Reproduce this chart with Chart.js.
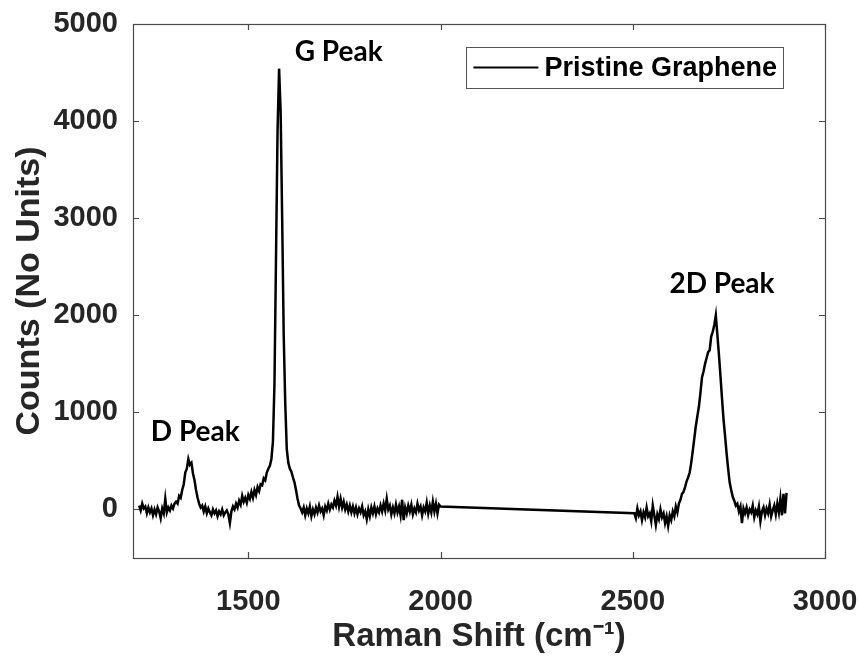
<!DOCTYPE html>
<html><head><meta charset="utf-8">
<script src="https://cdn.jsdelivr.net/npm/chart.js@4/dist/chart.umd.min.js"></script>
<style>html,body{margin:0;padding:0;background:#fff}#wrap{width:859px;height:661px}</style>
</head><body><div id="wrap"><canvas id="c" width="859" height="661"></canvas></div>
<script>
// ---- data ----
const seriesName = 'Pristine Graphene';
const xTickValues = [1500, 2000, 2500, 3000];
const yTickValues = [0, 1000, 2000, 3000, 4000, 5000];

const shiftLow = [
1216,1220,1224,1228,1232,1236,1240,1244,1248,1252,
1256,1260,1264,1268,1272,1276,1280,1284,1288,1292,
1296,1300,1304,1308,1312,1316,1320,1324,1328,1332,
1336,1340,1344,1348,1352,1356,1360,1364,1368,1372,
1376,1380,1384,1388,1392,1396,1400,1404,1408,1412,
1416,1420,1424,1428,1432,1436,1440,1444,1448,1452,
1456,1460,1464,1468,1472,1476,1480,1484,1488,1492,
1496,1500,1504,1508,1512,1516,1520,1524,1528,1532,
1536,1540,1544,1548,1552,1556,1560,1564,1568,1572,
1576,1580,1584,1588,1592,1596,1600,1604,1608,1612,
1616,1620,1624,1628,1632,1636,1640,1644,1648,1652,
1656,1660,1664,1668,1672,1676,1680,1684,1688,1692,
1696,1700,1704,1708,1712,1716,1720,1724,1728,1732,
1736,1740,1744,1748,1752,1756,1760,1764,1768,1772,
1776,1780,1784,1788,1792,1796,1800,1804,1808,1812,
1816,1820,1824,1828,1832,1836,1840,1844,1848,1852,
1856,1860,1864,1868,1872,1876,1880,1884,1888,1892,
1896,1900,1904,1908,1912,1916,1920,1924,1928,1932,
1936,1940,1944,1948,1952,1956,1960,1964,1968,1972,
1976,1980,1984,1988,1992,1996,2000];
const countsLow = [
40,-10,60,10,30,-40,20,-30,10,-60,
0,-50,20,-20,-90,10,-40,110,-30,20,
-10,40,10,60,80,60,140,120,200,260,
380,420,520,460,480,370,300,200,120,60,
20,40,-20,30,-40,10,-30,-60,0,-40,
-10,-70,-20,-50,0,-60,-30,-10,-50,-140,
-20,30,0,60,20,90,50,140,80,120,
70,150,110,180,120,200,150,230,190,260,
250,320,300,380,420,450,520,700,1300,2600,
3900,4540,4100,3000,1800,1100,620,480,420,390,
330,280,200,110,40,10,-30,20,-60,10,
-40,30,-70,0,-50,20,-30,40,-20,10,
-60,30,-10,60,0,50,20,90,40,130,
30,110,20,80,0,50,-20,40,-30,30,
-40,20,-50,10,-30,30,-60,-20,-100,0,
-70,20,-40,30,-50,10,-30,40,-20,60,
-10,110,0,40,-50,20,-40,50,-30,30,
-60,100,-110,20,-40,40,-20,50,-50,10,
-30,60,-10,30,-60,20,-20,70,-40,40,
-30,80,-20,60,-40,50,30];

const shiftHigh = [
2504,2508,2512,2516,2520,2524,2528,2532,2536,2540,
2544,2548,2552,2556,2560,2564,2568,2572,2576,2580,
2584,2588,2592,2596,2600,2604,2608,2612,2616,2620,
2624,2628,2632,2636,2640,2644,2648,2652,2656,2660,
2664,2668,2672,2676,2680,2684,2688,2692,2696,2700,
2704,2708,2712,2716,2720,2724,2728,2732,2736,2740,
2744,2748,2752,2756,2760,2764,2768,2772,2776,2780,
2784,2788,2792,2796,2800,2804,2808,2812,2816,2820,
2824,2828,2832,2836,2840,2844,2848,2852,2856,2860,
2864,2868,2872,2876,2880,2884,2888,2892,2896,2900];
const countsHigh = [
-40,-90,10,-60,-20,-110,-30,-80,20,-70,
-40,-120,40,-60,-160,-50,-100,0,-80,-40,
-140,-70,-170,-60,-110,-20,-70,30,-30,60,
100,160,180,230,290,330,380,480,600,730,
860,960,1060,1200,1360,1420,1500,1560,1620,1640,
1780,1830,1900,2000,1800,1600,1380,1150,930,760,
580,420,280,200,130,90,40,60,-20,30,
-140,10,-40,20,-60,0,-30,40,-80,-10,
-50,30,-120,-20,20,-60,10,-40,50,-70,
-10,40,-50,60,-30,110,-60,160,-40,170];

// peak annotations (text and anchor in data units)
const peakNames = ['D Peak', 'G Peak', '2D Peak'];
const peakAnchorShift = [1362, 1735, 2732];
const peakAnchorCounts = [710, 4620, 2230];

// ---- chart ----
Chart.defaults.font.family = "'Liberation Sans', Arial, Helvetica, sans-serif";
const axisColor = '#262626';

const points = shiftLow.map((x, i) => ({x, y: countsLow[i]}))
  .concat(shiftHigh.map((x, i) => ({x, y: countsHigh[i]})));

const framePlugin = {
  id: 'frame',
  afterDraw(chart) {
    const {ctx, chartArea: a, scales: {x, y}} = chart;
    ctx.save();
    // box
    ctx.strokeStyle = '#4a4a4a';
    ctx.lineWidth = 1.2;
    ctx.strokeRect(a.left + 0.5, a.top + 0.5, a.right - a.left, a.bottom - a.top);
    // inward ticks on all four sides
    const tl = 6;
    ctx.beginPath();
    xTickValues.forEach(v => {
      const px = Math.round(x.getPixelForValue(v)) + 0.5;
      ctx.moveTo(px, a.bottom); ctx.lineTo(px, a.bottom - tl);
      ctx.moveTo(px, a.top); ctx.lineTo(px, a.top + tl);
    });
    yTickValues.forEach(v => {
      const py = Math.round(y.getPixelForValue(v)) + 0.5;
      ctx.moveTo(a.left, py); ctx.lineTo(a.left + tl, py);
      ctx.moveTo(a.right, py); ctx.lineTo(a.right - tl, py);
    });
    ctx.stroke();

    // peak labels
    ctx.fillStyle = '#000';
    ctx.font = "bold 28px Lato, 'Open Sans', sans-serif";
    ctx.textAlign = 'center';
    ctx.textBaseline = 'alphabetic';
    peakNames.forEach((t, i) => {
      ctx.fillText(t, x.getPixelForValue(peakAnchorShift[i]), y.getPixelForValue(peakAnchorCounts[i]));
    });

    // legend box (inside axes, top-right)
    ctx.font = "bold 27px 'Liberation Sans', Arial, sans-serif";
    const tw = ctx.measureText(seriesName).width;
    const sample = 65, gap = 6, padL = 7, padR = 6, h = 41;
    const w = padL + sample + gap + tw + padR;
    const bx = a.right - 42 - w, by = a.top + 23;
    ctx.fillStyle = '#fff';
    ctx.fillRect(bx, by, w, h);
    ctx.strokeStyle = '#555';
    ctx.lineWidth = 1;
    ctx.strokeRect(Math.round(bx) + 0.5, Math.round(by) + 0.5, Math.round(w), h);
    ctx.strokeStyle = '#000';
    ctx.lineWidth = 2;
    ctx.beginPath();
    ctx.moveTo(bx + padL, by + h / 2); ctx.lineTo(bx + padL + sample, by + h / 2);
    ctx.stroke();
    ctx.fillStyle = '#000';
    ctx.textAlign = 'left';
    ctx.textBaseline = 'middle';
    ctx.fillText(seriesName, bx + padL + sample + gap, by + h / 2 + 1);
    ctx.restore();
  }
};

const plainLabel = v => String(v);

new Chart(document.getElementById('c'), {
  type: 'scatter',
  data: {
    datasets: [{
      label: seriesName,
      data: points,
      showLine: true,
      borderColor: '#000',
      backgroundColor: '#000',
      borderWidth: 2.5,
      pointRadius: 0,
      tension: 0
    }]
  },
  options: {
    responsive: false,
    devicePixelRatio: 1,
    animation: false,
    layout: {padding: {top: 24, right: 34, left: 0, bottom: 0}},
    plugins: {legend: {display: false}, tooltip: {enabled: false}},
    scales: {
      x: {
        type: 'linear', min: 1200, max: 3000,
        afterBuildTicks: s => { s.ticks = xTickValues.map(v => ({value: v})); },
        afterFit: s => { s.height = 103; s.paddingLeft = 0; s.paddingRight = 0; },
        grid: {display: false, drawTicks: false},
        border: {display: false},
        ticks: {font: {size: 29, weight: 'bold'}, color: axisColor, padding: 27, maxRotation: 0, autoSkip: false, callback: plainLabel},
        title: {display: true, text: 'Raman Shift (cm\u207B\u00B9)', font: {size: 33, weight: 'bold'}, color: axisColor, padding: {top: 0, bottom: 4}}
      },
      y: {
        type: 'linear', min: -500, max: 5000,
        afterBuildTicks: s => { s.ticks = yTickValues.map(v => ({value: v})); },
        afterFit: s => { s.width = 133; s.paddingTop = 0; s.paddingBottom = 0; },
        grid: {display: false, drawTicks: false},
        border: {display: false},
        ticks: {font: {size: 29, weight: 'bold'}, color: axisColor, padding: 15, autoSkip: false, callback: plainLabel},
        title: {display: true, text: 'Counts (No Units)', font: {size: 34, weight: 'bold'}, color: axisColor, padding: {top: 9, bottom: 0}}
      }
    }
  },
  plugins: [framePlugin]
});
</script>
</body></html>
